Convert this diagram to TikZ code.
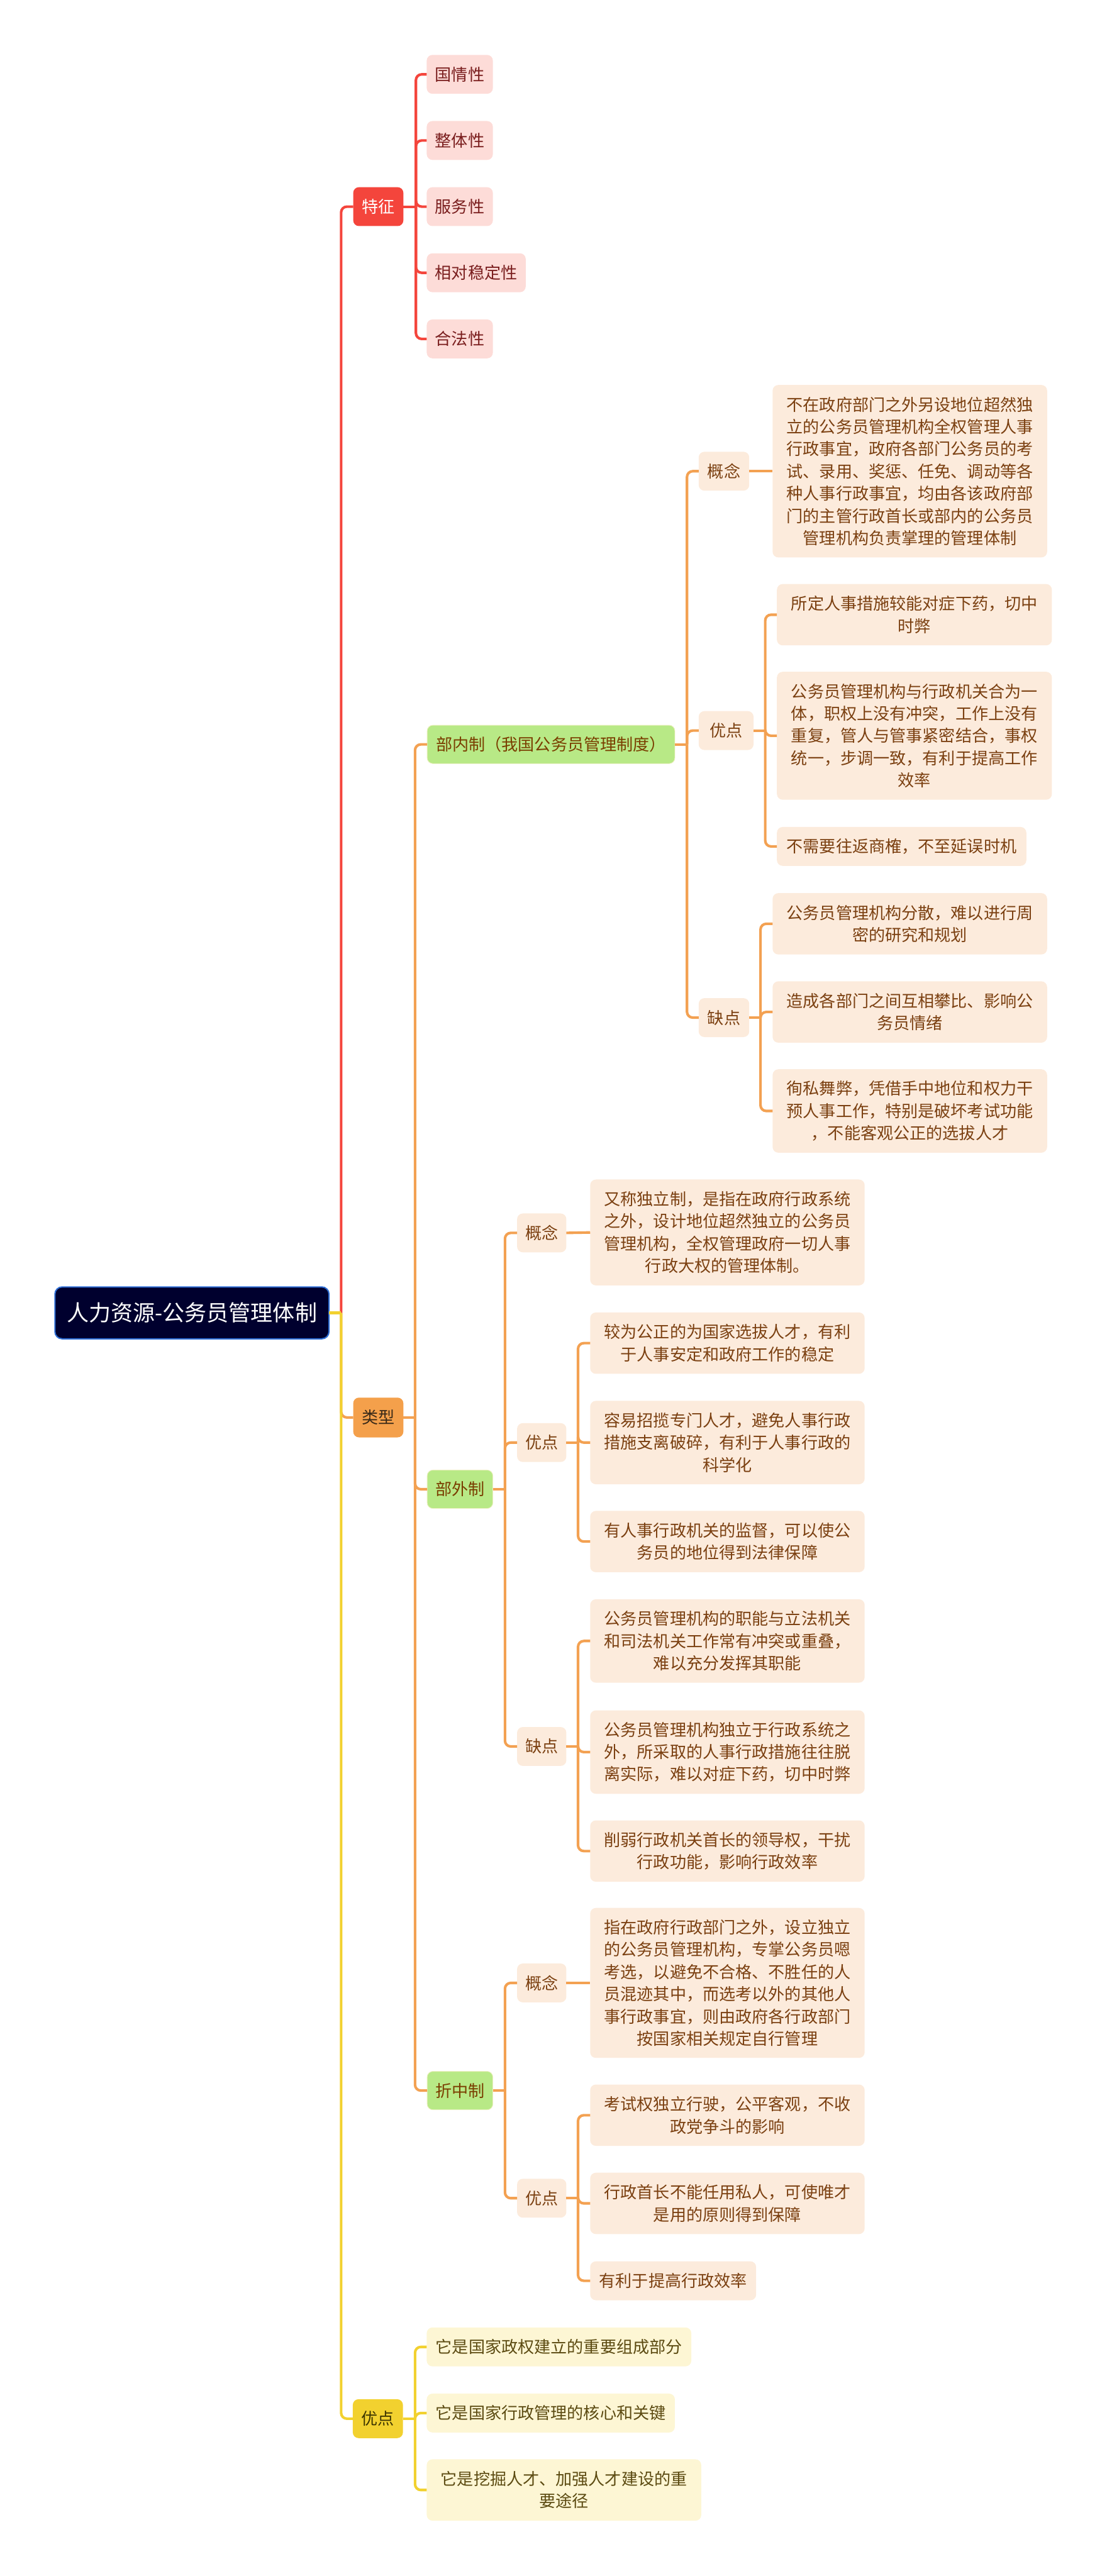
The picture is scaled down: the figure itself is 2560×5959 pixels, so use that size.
\documentclass[tikz,border=0pt]{standalone}
\usepackage{fontspec}
\setmainfont{Noto Sans CJK SC}
\newlength{\pxu}\setlength{\pxu}{0.3pt}
\definecolor{croot}{HTML}{00002E}
\definecolor{crootb}{HTML}{2F6FD6}
\definecolor{cred}{HTML}{F4453C}
\definecolor{cpink}{HTML}{FDDCD8}
\definecolor{cpinkt}{HTML}{7A1E1E}
\definecolor{corange}{HTML}{F4A04B}
\definecolor{coline}{HTML}{F3A152}
\definecolor{cltext}{HTML}{3A2A18}
\definecolor{cgreen}{HTML}{B8E986}
\definecolor{cgreenb}{HTML}{EEF0C4}
\definecolor{cgreent}{HTML}{7A3E00}
\definecolor{cpeach}{HTML}{FCEBDC}
\definecolor{cbrown}{HTML}{7B4011}
\definecolor{cyellow}{HTML}{F2D12F}
\definecolor{cytext}{HTML}{3D3500}
\definecolor{cylight}{HTML}{FDF6D4}
\definecolor{cyleaft}{HTML}{5C4B12}
\begin{document}
\begin{tikzpicture}[x=0.3pt,y=-0.3pt,
  base/.style={rounded corners=4pt, inner sep=0pt, outer sep=0pt, align=center,
    font=\fontsize{11.4pt}{15.45pt}\selectfont},
  rootn/.style={base, fill=croot, draw=crootb, line width=0.9pt, text=white,
    rounded corners=5pt, font=\fontsize{15.3pt}{18pt}\selectfont,
    minimum width=634\pxu, minimum height=120\pxu},
  lone/.style={base, minimum width=116\pxu, minimum height=90\pxu},
  pinkn/.style={base, fill=cpink, text=cpinkt, minimum height=90\pxu},
  greenn/.style={base, fill=cgreen, draw=cgreenb, line width=0.4pt, text=cgreent, minimum height=89\pxu},
  peach/.style={base, fill=cpeach, text=cbrown},
  yleaf/.style={base, fill=cylight, text=cyleaft},
  hA/.style={minimum height=90\pxu},
  hB/.style={minimum height=142\pxu},
  hC/.style={minimum height=193\pxu},
  hD/.style={minimum height=245\pxu},
  hE/.style={minimum height=296\pxu},
  hF/.style={minimum height=347\pxu},
  hG/.style={minimum height=399\pxu},
  wL/.style={minimum width=635\pxu},
  conn/.style={line width=1.8pt, rounded corners=4pt},
  rline/.style={conn, draw=cred},
  oline/.style={conn, draw=coline},
  yline/.style={conn, draw=cyellow}
]
\useasboundingbox (0,0) rectangle (2560,5959);

% ---------- nodes ----------
\node[rootn] (root) at (444,3037) {人力资源-公务员管理体制};

\node[lone, fill=cred, text=white] (tz) at (875,478) {特征};
\node[lone, fill=corange, text=cltext, minimum height=92\pxu] (lx) at (875,3279) {类型};
\node[lone, fill=cyellow, text=cytext] (yd) at (874,5595) {优点};

% 特征 children
\node[pinkn, minimum width=153\pxu] (tz1) at (1063.5,172) {国情性};
\node[pinkn, minimum width=153\pxu] (tz2) at (1063.5,325) {整体性};
\node[pinkn, minimum width=153\pxu] (tz3) at (1063.5,478) {服务性};
\node[pinkn, minimum width=229\pxu] (tz4) at (1101.5,631) {相对稳定性};
\node[pinkn, minimum width=153\pxu] (tz5) at (1063.5,784) {合法性};

% 类型 children
\node[greenn, minimum width=573\pxu] (bn) at (1274.5,1722) {部内制（我国公务员管理制度）};
\node[greenn, minimum width=152\pxu] (bw) at (1064,3445) {部外制};
\node[greenn, minimum width=152\pxu] (zz) at (1064,4836) {折中制};

% 部内制
\node[peach, hA, minimum width=117\pxu] (bn1) at (1674.5,1090) {概念};
\node[peach, hA, minimum width=127\pxu] (bn2) at (1679.5,1690) {优点};
\node[peach, hA, minimum width=117\pxu] (bn3) at (1674.5,2354) {缺点};

\node[peach, hG, wL] (bn1a) at (2104.5,1090) {不在政府部门之外另设地位超然独\\立的公务员管理机构全权管理人事\\行政事宜，政府各部门公务员的考\\试、录用、奖惩、任免、调动等各\\种人事行政事宜，均由各该政府部\\门的主管行政首长或部内的公务员\\管理机构负责掌理的管理体制};

\node[peach, hB, minimum width=636\pxu] (bn2a) at (2115,1422) {所定人事措施较能对症下药，切中\\时弊};
\node[peach, hE, minimum width=636\pxu] (bn2b) at (2115,1702) {公务员管理机构与行政机关合为一\\体，职权上没有冲突，工作上没有\\重复，管人与管事紧密结合，事权\\统一，步调一致，有利于提高工作\\效率};
\node[peach, hA, minimum width=577\pxu] (bn2c) at (2085.5,1958) {不需要往返商榷，不至延误时机};

\node[peach, hB, wL] (bn3a) at (2104.5,2137) {公务员管理机构分散，难以进行周\\密的研究和规划};
\node[peach, hB, wL] (bn3b) at (2104.5,2341) {造成各部门之间互相攀比、影响公\\务员情绪};
\node[peach, hC, wL] (bn3c) at (2104.5,2570) {徇私舞弊，凭借手中地位和权力干\\预人事工作，特别是破坏考试功能\\，不能客观公正的选拔人才};

% 部外制
\node[peach, hA, minimum width=114\pxu] (bw1) at (1253,2852) {概念};
\node[peach, hA, minimum width=114\pxu] (bw2) at (1253,3337) {优点};
\node[peach, hA, minimum width=114\pxu] (bw3) at (1253,4040) {缺点};

\node[peach, hD, wL] (bw1a) at (1682.5,2851) {又称独立制，是指在政府行政系统\\之外，设计地位超然独立的公务员\\管理机构，全权管理政府一切人事\\行政大权的管理体制。};

\node[peach, hB, wL] (bw2a) at (1682.5,3107) {较为公正的为国家选拔人才，有利\\于人事安定和政府工作的稳定};
\node[peach, hC, wL] (bw2b) at (1682.5,3337) {容易招揽专门人才，避免人事行政\\措施支离破碎，有利于人事行政的\\科学化};
\node[peach, hB, wL] (bw2c) at (1682.5,3566) {有人事行政机关的监督，可以使公\\务员的地位得到法律保障};

\node[peach, hC, wL] (bw3a) at (1682.5,3796) {公务员管理机构的职能与立法机关\\和司法机关工作常有冲突或重叠，\\难以充分发挥其职能};
\node[peach, hC, wL] (bw3b) at (1682.5,4053) {公务员管理机构独立于行政系统之\\外，所采取的人事行政措施往往脱\\离实际，难以对症下药，切中时弊};
\node[peach, hB, wL] (bw3c) at (1682.5,4282) {削弱行政机关首长的领导权，干扰\\行政功能，影响行政效率};

% 折中制
\node[peach, hA, minimum width=114\pxu] (zz1) at (1253,4587) {概念};
\node[peach, hA, minimum width=114\pxu] (zz2) at (1253,5085) {优点};

\node[peach, hF, wL] (zz1a) at (1682.5,4587) {指在政府行政部门之外，设立独立\\的公务员管理机构，专掌公务员嗯\\考选，以避免不合格、不胜任的人\\员混迹其中，而选考以外的其他人\\事行政事宜，则由政府各行政部门\\按国家相关规定自行管理};

\node[peach, hB, wL] (zz2a) at (1682.5,4893) {考试权独立行驶，公平客观，不收\\政党争斗的影响};
\node[peach, hB, wL] (zz2b) at (1682.5,5097) {行政首长不能任用私人，可使唯才\\是用的原则得到保障};
\node[peach, hA, minimum width=384\pxu] (zz2c) at (1557,5276) {有利于提高行政效率};

% 优点 (yellow)
\node[yleaf, hA, minimum width=612\pxu] (yd1) at (1293,5429) {它是国家政权建立的重要组成部分};
\node[yleaf, hA, minimum width=574\pxu] (yd2) at (1274,5582) {它是国家行政管理的核心和关键};
\node[yleaf, hB, wL] (yd3) at (1304.5,5760) {它是挖掘人才、加强人才建设的重\\要途径};

% ---------- junctions ----------
\coordinate (jroot) at (789,3037);
\coordinate (jtz) at (962,478);
\coordinate (jlx) at (960,3279);
\coordinate (jyd) at (960,5595);
\coordinate (jbn) at (1589,1722);
\coordinate (jbn2) at (1770,1690);
\coordinate (jbn3) at (1759,2354);
\coordinate (jbw) at (1168,3445);
\coordinate (jbw2) at (1337,3337);
\coordinate (jbw3) at (1337,4040);
\coordinate (jzz) at (1168,4836);
\coordinate (jzz2) at (1337,5085);

% ---------- connectors ----------
% orange (类型) branch
\draw[oline] (jroot) |- (lx.west);
\draw[oline] (lx.east) -- (jlx);
\foreach \c in {bn,bw,zz} \draw[oline] (jlx) |- (\c.west);
\draw[oline] (bn.east) -- (jbn);
\foreach \c in {bn1,bn2,bn3} \draw[oline] (jbn) |- (\c.west);
\draw[oline] (bn1.east) -- (bn1a.west);
\draw[oline] (bn2.east) -- (jbn2);
\foreach \c in {bn2a,bn2b,bn2c} \draw[oline] (jbn2) |- (\c.west);
\draw[oline] (bn3.east) -- (jbn3);
\foreach \c in {bn3a,bn3b,bn3c} \draw[oline] (jbn3) |- (\c.west);
\draw[oline] (bw.east) -- (jbw);
\foreach \c in {bw1,bw2,bw3} \draw[oline] (jbw) |- (\c.west);
\draw[oline] (bw1.east) -- (bw1a.west);
\draw[oline] (bw2.east) -- (jbw2);
\foreach \c in {bw2a,bw2b,bw2c} \draw[oline] (jbw2) |- (\c.west);
\draw[oline] (bw3.east) -- (jbw3);
\foreach \c in {bw3a,bw3b,bw3c} \draw[oline] (jbw3) |- (\c.west);
\draw[oline] (zz.east) -- (jzz);
\foreach \c in {zz1,zz2} \draw[oline] (jzz) |- (\c.west);
\draw[oline] (zz1.east) -- (zz1a.west);
\draw[oline] (zz2.east) -- (jzz2);
\foreach \c in {zz2a,zz2b,zz2c} \draw[oline] (jzz2) |- (\c.west);
% red (特征) branch
\draw[rline] (jroot) |- (tz.west);
\draw[rline] (tz.east) -- (jtz);
\foreach \c in {tz1,tz2,tz3,tz4,tz5} \draw[rline] (jtz) |- (\c.west);
% yellow (优点) branch
\draw[yline] (root.east) -- (jroot);
\draw[yline] (jroot) |- (yd.west);
\draw[yline] (yd.east) -- (jyd);
\foreach \c in {yd1,yd2,yd3} \draw[yline] (jyd) |- (\c.west);
\end{tikzpicture}
\end{document}
